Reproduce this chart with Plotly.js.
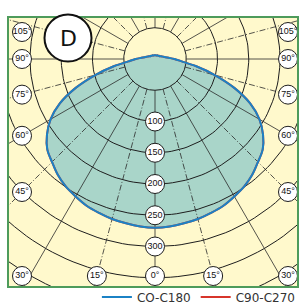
<!DOCTYPE html>
<html><head><meta charset="utf-8">
<script src="https://cdn.plot.ly/plotly-3.0.1.min.js"></script>
<style>html,body{margin:0;padding:0;background:#fff;}#chart{width:302px;height:304px;}</style>
</head><body><div id="chart"></div>
<script>
// gamma angles (deg from nadir) and luminous intensity (cd/klm)
const gammaAngles      = [0,5,10,15,20,25,30,35,40,45,50,55,60,65,70,75,80,85,90,95,100,105,110,120,130,140,150,160,170,180];
const intensityC0C180  = [270,269,267,265,262,259,254,249,242,233,225,211,193,168,135,99,67,43,31,22,17,14,12,9,8,7,7,6,6,6];
const intensityC90C270 = [270,269,267,265,262,259,254,249,242,233,225,211,193,168,135,99,67,43,31,22,17,14,12,9,8,7,7,6,6,6];
const seriesNames  = ['CO-C180','C90-C270'];
const ringValues   = [50,100,150,200,250,300,350,400];
const ringLabels   = [100,150,200,250,300];
const spokeAngles  = [0,15,30,45,60,75,90,105,120,135,150,165,180,195,210,225,240,255,270,285,300,315,330,345];
const angleLabels  = [0,15,30,45,60,75,90,105];
const badgeText    = 'D';

const rad = d => d*Math.PI/180;
function xy(r, g){ return [r*Math.sin(rad(g)), -r*Math.cos(rad(g))]; }

function outline(vals){
  const xs=[], ys=[];
  for(let i=gammaAngles.length-1;i>=0;i--){ const p=xy(vals[i],gammaAngles[i]); xs.push(p[0]); ys.push(p[1]); }
  for(let i=1;i<gammaAngles.length;i++){ const p=xy(vals[i],-gammaAngles[i]); xs.push(p[0]); ys.push(p[1]); }
  return [xs,ys];
}

const traces = [];
const o1 = outline(intensityC0C180), o2 = outline(intensityC90C270);

traces.push({x:o1[0], y:o1[1], type:'scatter', mode:'lines', fill:'toself', fillcolor:'#a9d5c9',
  line:{width:0, shape:'spline'}, showlegend:false, hoverinfo:'skip'});

const rx=[], ry=[];
ringValues.forEach(r=>{ for(let a=0;a<=360;a+=2){ const p=xy(r,a); rx.push(p[0]); ry.push(p[1]); } rx.push(null); ry.push(null); });
traces.push({x:rx, y:ry, type:'scatter', mode:'lines', line:{color:'#1e1e1e', width:1}, showlegend:false, hoverinfo:'skip'});

const sx=[], sy=[], dx=[], dy=[];
spokeAngles.forEach(a=>{
  const p0=xy(ringValues[0],a), p1=xy(700,a);
  const tx = (a%30===0)?sx:dx, ty=(a%30===0)?sy:dy;
  tx.push(p0[0],p1[0],null); ty.push(p0[1],p1[1],null);
});
traces.push({x:sx, y:sy, type:'scatter', mode:'lines', line:{color:'#2a2a2a', width:0.8}, showlegend:false, hoverinfo:'skip'});
traces.push({x:dx, y:dy, type:'scatter', mode:'lines', line:{color:'#2a2a2a', width:0.8, dash:'6px,2px,1px,2px'}, showlegend:false, hoverinfo:'skip'});

traces.push({x:o2[0], y:o2[1], type:'scatter', mode:'lines', name:seriesNames[1], legendrank:2,
  line:{color:'#d7352b', width:2, shape:'spline'}, hoverinfo:'skip'});
traces.push({x:o1[0], y:o1[1], type:'scatter', mode:'lines', name:seriesNames[0], legendrank:1,
  line:{color:'#1b82c5', width:2, shape:'spline'}, hoverinfo:'skip'});

const XR=[-235.2,228.8], YR=[-364.8,67.2];
const colX=212.8, rowY=-347.2, topY=43.2;
const lx=[], ly=[], lt=[];
angleLabels.forEach(a=>{
  const sides = a===0?[1]:[-1,1];
  sides.forEach(s=>{
    let x,y;
    if(a<30){ y=rowY; x=s*Math.min(colX, -rowY*Math.tan(rad(a))); }
    else { x=s*colX; y=-colX*Math.cos(rad(a))/Math.sin(rad(a)); y=Math.max(rowY,Math.min(topY,y)); }
    lx.push(x); ly.push(y); lt.push(a+'°');
  });
});
ringLabels.forEach(r=>{ const p=xy(r,0); lx.push(p[0]); ly.push(p[1]); lt.push(String(r)); });
traces.push({x:lx, y:ly, text:lt, type:'scatter', mode:'markers+text', cliponaxis:false,
  marker:{symbol:'circle', size:19, color:'#ffffff', line:{color:'#1e1e1e', width:1}},
  textposition:'middle center', textfont:{family:'Liberation Sans Narrow, Liberation Sans, sans-serif', size:9, color:'#111'},
  showlegend:false, hoverinfo:'skip'});

const layout = {
  width:302, height:304,
  margin:{l:8, r:4, t:17, b:17, autoexpand:false},
  paper_bgcolor:'#ffffff', plot_bgcolor:'#fff9cc',
  xaxis:{range:XR, visible:false, fixedrange:true},
  yaxis:{range:YR, visible:false, fixedrange:true},
  showlegend:true,
  legend:{orientation:'h', x:1.01, xanchor:'right', y:-0.037, yanchor:'middle',
    font:{family:'DejaVu Sans, sans-serif', size:12, color:'#333'}, bgcolor:'rgba(0,0,0,0)', itemwidth:30, tracegroupgap:0},
  shapes:[
    {type:'rect', xref:'paper', yref:'paper', x0:0, x1:1, y0:0, y1:1, line:{color:'#4e9b5b', width:2}, layer:'above'},
    {type:'circle', xref:'paper', yref:'paper', xsizemode:'pixel', ysizemode:'pixel', xanchor:0.2069, yanchor:0.9222,
     x0:-23.5, x1:23.5, y0:-23.5, y1:23.5, fillcolor:'#ffffff', line:{color:'#111', width:2}, layer:'above'}
  ],
  annotations:[
    {xref:'paper', yref:'paper', x:0.2069, y:0.9222, xanchor:'center', yanchor:'middle', text:badgeText, showarrow:false,
     font:{family:'DejaVu Sans, sans-serif', size:22, color:'#111'}}
  ]
};
Plotly.newPlot('chart', traces, layout, {displayModeBar:false, staticPlot:true});
</script></body></html>
